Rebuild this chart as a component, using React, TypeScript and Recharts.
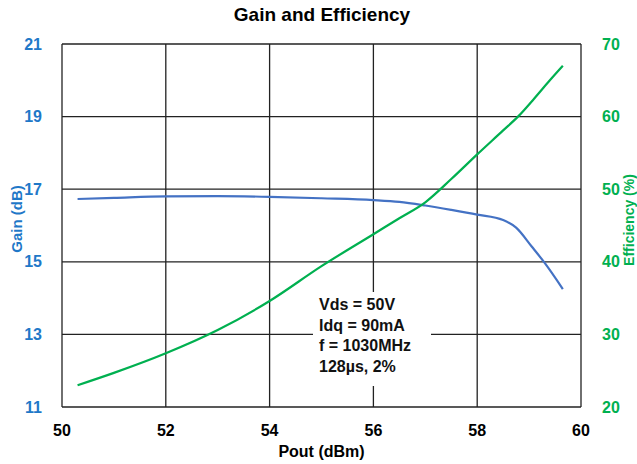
import { LineChart, Line, XAxis, YAxis, CartesianGrid, Label } from "recharts";

const poutTicks = [50, 52, 54, 56, 58, 60];
const gainTicks = [11, 13, 15, 17, 19, 21];
const effTicks = [20, 30, 40, 50, 60, 70];

const gainPout = [50.3, 51, 52, 53, 54, 55, 56, 56.5, 57, 57.5, 58, 58.5, 58.75, 59.05, 59.3, 59.65];
const gainDb = [16.73, 16.76, 16.8, 16.81, 16.79, 16.75, 16.7, 16.65, 16.55, 16.43, 16.3, 16.15, 15.94, 15.42, 14.97, 14.25];

const effPout = [50.3, 51, 52, 53, 54, 55, 56, 56.5, 57, 57.5, 58, 58.5, 58.8, 59.1, 59.4, 59.65];
const effPct = [23.0, 24.7, 27.4, 30.6, 34.6, 39.4, 43.8, 46.0, 48.2, 51.4, 54.8, 58.1, 60.1, 62.5, 65.0, 67.0];

const notes = ["Vds = 50V", "Idq = 90mA", "f = 1030MHz", "128\u00b5s, 2%"];

const gainData = gainPout.map((x, i) => ({ pout: x, gain: gainDb[i] }));
const effData = effPout.map((x, i) => ({ pout: x, eff: effPct[i] }));

const BLUE = "#1F78C8";
const GREEN = "#00B050";
const FONT = "'Liberation Sans', Arial, sans-serif";

const tickStyle = { fontSize: 16, fontWeight: 700, fontFamily: FONT };

// rotated axis title, centred on (cx, cy)
function SideTitle({ text, cx, cy, color, size }: { text: string; cx: number; cy: number; color: string; size: number }) {
  return (
    <div
      style={{
        position: "absolute",
        left: cx - 100,
        top: cy - 10,
        width: 200,
        height: 20,
        lineHeight: "20px",
        textAlign: "center",
        transform: "rotate(-90deg)",
        fontSize: size,
        fontWeight: 700,
        color,
        whiteSpace: "nowrap",
      }}
    >
      {text}
    </div>
  );
}

export default function App() {
  return (
    <div style={{ position: "absolute", left: 0, top: 0, width: 637, height: 464, background: "#fff", fontFamily: FONT }}>
      <div
        style={{
          position: "absolute",
          left: 0,
          width: 644,
          top: 4,
          textAlign: "center",
          fontSize: 19,
          fontWeight: 700,
          color: "#000",
        }}
      >
        Gain and Efficiency
      </div>
      <LineChart width={637} height={464} margin={{ top: 44, right: 0, bottom: 0, left: 0 }}>
        <CartesianGrid xAxisId="x" yAxisId="gain" stroke="#222" strokeWidth={1.3} />
        <XAxis
          xAxisId="x"
          type="number"
          dataKey="pout"
          domain={[50, 60]}
          ticks={poutTicks}
          allowDuplicatedCategory={false}
          height={57}
          axisLine={false}
          tickLine={false}
          tickMargin={12}
          tick={{ ...tickStyle, fill: "#000" }}
        >
          <Label value="Pout (dBm)" position="insideBottom" offset={7} style={{ fontSize: 16, fontWeight: 700, fill: "#000", fontFamily: FONT }} />
        </XAxis>
        <YAxis
          yAxisId="gain"
          domain={[11, 21]}
          ticks={gainTicks}
          width={62}
          axisLine={false}
          tickLine={false}
          tickMargin={14}
          tick={{ ...tickStyle, fill: BLUE }}
        />
        <YAxis
          yAxisId="eff"
          orientation="right"
          domain={[20, 70]}
          ticks={effTicks}
          width={56}
          axisLine={false}
          tickLine={false}
          tickMargin={15}
          tick={{ ...tickStyle, fill: GREEN }}
        />
        <Line
          xAxisId="x"
          yAxisId="gain"
          data={gainData}
          dataKey="gain"
          type="monotone"
          stroke="#4472C4"
          strokeWidth={2.2}
          dot={false}
          isAnimationActive={false}
        />
        <Line
          xAxisId="x"
          yAxisId="eff"
          data={effData}
          dataKey="eff"
          type="monotone"
          stroke={GREEN}
          strokeWidth={2.2}
          dot={false}
          isAnimationActive={false}
        />
      </LineChart>
      <SideTitle text="Gain (dB)" cx={17} cy={219} color={BLUE} size={15} />
      <SideTitle text="Efficiency (%)" cx={629} cy={220} color={GREEN} size={14} />
      <div
        style={{
          position: "absolute",
          left: 313,
          top: 292,
          width: 118,
          height: 94,
          background: "#fff",
          boxSizing: "border-box",
          paddingLeft: 6,
          paddingTop: 3,
          fontSize: 16,
          fontWeight: 700,
          lineHeight: "20.5px",
          color: "#111",
          whiteSpace: "nowrap",
        }}
      >
        {notes.map((n) => (
          <div key={n}>{n}</div>
        ))}
      </div>
    </div>
  );
}
